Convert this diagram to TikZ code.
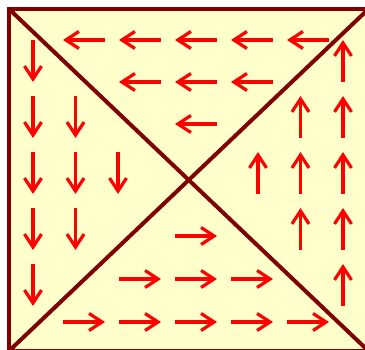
\documentclass[tikz,border=0pt]{standalone}
\usetikzlibrary{arrows.meta}
\definecolor{boxfill}{RGB}{255,255,204}
\definecolor{edgecol}{RGB}{128,0,0}
\definecolor{flowcol}{RGB}{255,0,0}

\begin{document}
\begin{tikzpicture}[x=1pt,y=-1pt,
    edge/.style={edgecol,line width=4pt},
    flow/.style={flowcol,line width=3.2pt,-{Straight Barb[length=13pt,width=17pt]}}]
  \useasboundingbox (0,0) rectangle (365,350);
  \clip (0,0) rectangle (365,350);
  \coordinate (tl) at (9,9);
  \coordinate (tr) at (368.5,9);
  \coordinate (bl) at (9,351);
  \coordinate (br) at (368.5,351);
  \fill[boxfill] (tl) rectangle (br);
  % top triangle, flow to the left
  \foreach \r in {0,1,2}{
    \pgfmathtruncatemacro\last{4-\r}
    \foreach \k in {\r,...,\last}
      \draw[flow] ({105+56*\k},{40+42*\r}) -- ++(-42,0);
  }
  % bottom triangle, flow to the right
  \foreach \r in {0,1,2}{
    \pgfmathtruncatemacro\last{4-\r}
    \foreach \k in {\r,...,\last}
      \draw[flow] ({63+56*\k},{322-43*\r}) -- ++(42,0);
  }
  % left triangle, flow down
  \foreach \c in {0,1,2}{
    \pgfmathtruncatemacro\last{4-\c}
    \foreach \k in {\c,...,\last}
      \draw[flow] ({33+42.5*\c},{40+56*\k}) -- ++(0,42);
  }
  % right triangle, flow up
  \foreach \c in {0,1,2}{
    \pgfmathtruncatemacro\last{4-\c}
    \foreach \k in {\c,...,\last}
      \draw[flow] ({343-42.5*\c},{82+56*\k}) -- ++(0,-42);
  }
  % frame: the right side falls outside the picture
  \draw[edge] (tr) -- (tl) -- (bl) -- (br);
  \draw[edge] (tl) -- (br);
  \draw[edge] (tr) -- (bl);
\end{tikzpicture}
\end{document}
